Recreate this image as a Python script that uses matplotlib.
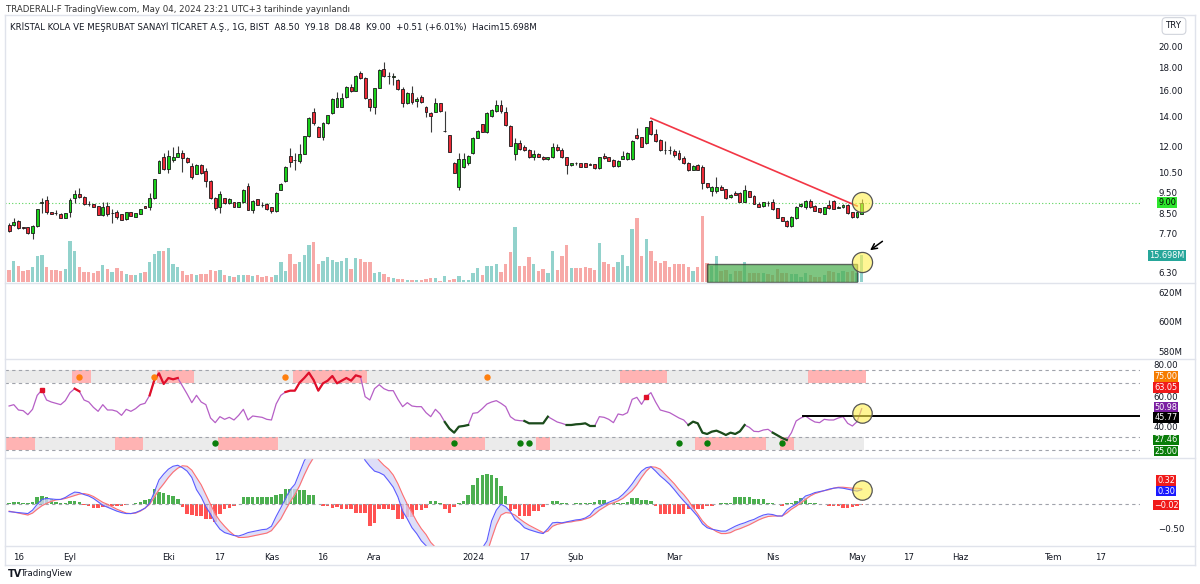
import numpy as np
import pandas as pd
import matplotlib
matplotlib.use("Agg")
import matplotlib.pyplot as plt
from matplotlib.lines import Line2D
from matplotlib.patches import Rectangle
from matplotlib.ticker import NullLocator
from matplotlib.transforms import blended_transform_factory

W, H = 1200, 584

### trading days (BIST holidays removed), then future days on the axis
holidays = ["2023-08-30", "2024-01-01", "2024-04-10", "2024-04-11",
            "2024-04-12", "2024-04-23", "2024-05-01"]
days = pd.bdate_range("2023-08-14", "2024-05-03")
days = days[~days.isin(pd.to_datetime(holidays))]
future = pd.bdate_range("2024-05-06", "2024-08-30")
alldays = days.append(future)

### OHLC (TRY)
opens = [8.03, 8.03, 8.20, 7.93, 7.93, 7.70, 7.97, 9.00, 9.13, 8.57,
         8.54, 8.50, 8.34, 8.56, 9.20, 9.41, 9.28, 8.96, 8.95, 8.85,
         8.46, 8.85, 8.52, 8.57, 8.48, 8.27, 8.56, 8.38, 8.50, 8.85,
         8.79, 9.20, 10.50, 11.39, 10.68, 11.20, 11.39, 11.59, 11.30, 10.86,
         10.43, 10.92, 10.60, 10.08, 9.20, 8.79, 9.20, 8.98, 9.01, 8.82,
         9.01, 9.80, 8.67, 9.16, 8.91, 8.95, 8.79, 8.63, 9.61, 10.03,
         11.43, 11.22, 11.16, 11.55, 12.65, 14.31, 13.28, 12.57, 13.51, 14.21,
         14.71, 14.71, 15.43, 16.29, 15.95, 17.50, 17.05, 15.27, 14.71, 16.21,
         17.80, 17.23, 17.14, 16.85, 16.10, 14.96, 15.79, 15.14, 15.48, 14.66,
         14.26, 14.33, 14.96, 12.98, 12.72, 11.05, 9.74, 10.79, 11.01, 11.59,
         12.55, 13.46, 12.94, 14.02, 14.41, 14.83, 14.29, 13.35, 11.55, 12.23,
         11.99, 11.79, 11.35, 11.55, 11.35, 11.24, 11.35, 11.99, 11.79, 11.35,
         10.90, 11.03, 11.01, 11.01, 10.96, 10.95, 10.73, 11.43, 11.35, 11.20,
         10.86, 11.28, 11.24, 11.24, 12.72, 12.57, 12.19, 13.67, 12.77, 12.40,
         11.81, 11.79, 11.75, 11.59, 11.30, 11.05, 10.64, 10.92, 10.82, 9.94,
         9.53, 9.53, 9.77, 9.64, 9.25, 9.48, 9.48, 9.05, 9.53, 9.31,
         8.95, 8.85, 8.99, 9.01, 8.75, 8.35, 8.21, 7.97, 8.31, 8.85,
         8.82, 9.10, 8.85, 8.75, 8.50, 8.90, 9.10, 8.78, 8.79, 8.90,
         8.56, 8.35, 8.50]
highs = [8.13, 8.31, 8.24, 7.95, 7.96, 8.03, 8.72, 9.20, 9.31, 8.58,
         8.67, 8.52, 8.55, 9.20, 9.61, 9.72, 9.30, 9.10, 8.96, 8.87,
         9.05, 9.05, 8.70, 8.67, 8.50, 8.58, 8.58, 8.55, 8.72, 8.87,
         9.47, 10.18, 11.20, 11.59, 11.79, 11.99, 12.03, 11.79, 11.35, 11.01,
         10.95, 10.96, 10.73, 10.10, 9.28, 9.53, 9.23, 9.20, 9.05, 9.05,
         9.65, 9.94, 9.13, 9.18, 9.05, 8.97, 8.82, 9.50, 9.95, 10.85,
         11.89, 11.59, 12.15, 12.68, 13.95, 14.58, 13.30, 13.56, 14.12, 15.33,
         15.87, 15.74, 16.35, 16.48, 17.26, 17.65, 17.10, 15.35, 16.21, 17.80,
         18.47, 17.59, 17.44, 16.90, 16.29, 15.82, 16.35, 15.48, 15.61, 14.76,
         14.33, 15.35, 15.01, 14.41, 12.74, 11.08, 11.59, 11.59, 11.47, 12.58,
         13.05, 13.49, 14.33, 14.50, 15.22, 15.22, 14.71, 13.38, 12.50, 12.40,
         12.09, 11.83, 11.79, 11.59, 11.43, 11.37, 12.23, 12.13, 11.89, 11.39,
         11.05, 11.10, 11.03, 11.05, 11.00, 10.98, 11.39, 11.63, 11.39, 11.24,
         11.20, 11.75, 11.69, 12.40, 13.16, 12.61, 13.28, 13.74, 13.10, 12.44,
         12.36, 12.00, 11.83, 11.79, 11.43, 11.08, 10.89, 10.98, 10.92, 9.95,
         9.80, 10.25, 9.85, 9.66, 9.40, 9.53, 9.50, 9.85, 9.56, 9.34,
         9.05, 9.05, 9.10, 9.16, 8.77, 8.37, 8.24, 8.41, 8.85, 8.98,
         9.13, 9.16, 8.88, 8.77, 8.82, 9.13, 9.13, 8.85, 8.93, 8.93,
         8.58, 8.58, 9.18]
lows = [7.76, 7.99, 7.87, 7.86, 7.66, 7.47, 7.95, 8.53, 8.50, 8.48,
        8.46, 8.32, 8.32, 8.38, 8.98, 9.20, 8.91, 8.85, 8.80, 8.44,
        8.41, 8.42, 8.10, 8.28, 8.22, 8.25, 8.39, 8.36, 8.48, 8.74,
        8.67, 9.18, 10.46, 10.64, 10.46, 11.10, 11.37, 10.55, 11.05, 10.14,
        10.40, 10.42, 9.77, 9.18, 8.67, 8.53, 8.95, 8.95, 8.80, 8.80,
        8.98, 8.65, 8.53, 8.88, 8.82, 8.68, 8.53, 8.60, 9.58, 10.00,
        10.82, 10.64, 11.05, 11.52, 12.62, 13.40, 12.58, 12.40, 13.48, 14.18,
        14.66, 14.66, 15.40, 15.87, 15.92, 16.94, 15.30, 14.38, 14.16, 16.18,
        17.14, 16.48, 16.43, 16.05, 14.66, 14.93, 14.91, 14.66, 15.01, 13.97,
        12.94, 14.28, 14.33, 12.94, 11.67, 10.46, 9.61, 10.73, 10.92, 11.56,
        12.52, 12.92, 12.83, 13.98, 14.33, 14.26, 13.33, 12.00, 11.20, 11.79,
        11.73, 11.30, 11.20, 11.35, 11.20, 11.22, 11.33, 11.75, 11.30, 10.43,
        10.86, 10.92, 10.80, 10.79, 10.90, 10.70, 10.70, 11.24, 11.12, 10.82,
        10.82, 11.24, 11.20, 11.20, 12.44, 11.95, 12.15, 12.72, 12.29, 11.75,
        11.55, 11.55, 11.39, 11.20, 10.98, 10.57, 10.61, 10.61, 9.64, 9.69,
        9.31, 9.48, 9.58, 9.18, 9.22, 9.34, 9.02, 9.01, 9.25, 8.92,
        8.79, 8.82, 8.85, 8.67, 8.31, 8.19, 7.94, 7.94, 8.29, 8.82,
        8.70, 8.75, 8.61, 8.53, 8.48, 8.70, 8.70, 8.75, 8.77, 8.50,
        8.33, 8.33, 8.48]
closes = [7.80, 8.17, 7.90, 7.89, 7.70, 7.97, 8.70, 9.05, 8.56, 8.50,
          8.52, 8.34, 8.53, 9.13, 9.41, 9.28, 8.93, 8.94, 8.82, 8.46,
          8.79, 8.50, 8.54, 8.38, 8.24, 8.56, 8.41, 8.53, 8.70, 8.76,
          9.20, 10.14, 11.16, 10.68, 11.43, 11.39, 11.59, 11.30, 11.10, 10.25,
          10.92, 10.46, 10.08, 9.20, 8.75, 9.41, 8.98, 9.16, 8.82, 9.01,
          9.61, 8.67, 9.10, 8.90, 8.89, 8.70, 8.64, 9.47, 9.91, 10.82,
          11.10, 11.18, 11.55, 12.65, 13.90, 13.51, 12.61, 13.51, 14.09, 15.30,
          15.35, 15.40, 16.29, 15.95, 17.23, 17.00, 15.35, 14.71, 16.15, 17.74,
          17.20, 17.17, 17.17, 16.10, 14.96, 15.79, 15.04, 15.30, 15.09, 14.29,
          14.02, 14.96, 14.41, 13.00, 11.69, 10.50, 11.24, 11.24, 11.43, 12.55,
          13.01, 12.94, 14.21, 14.46, 14.83, 14.41, 13.40, 12.03, 12.23, 11.83,
          11.79, 11.35, 11.53, 11.35, 11.24, 11.35, 11.99, 11.79, 11.35, 10.92,
          11.01, 11.00, 10.82, 10.82, 10.94, 10.73, 11.35, 11.30, 11.16, 10.86,
          11.16, 11.43, 11.59, 12.36, 12.50, 11.99, 13.23, 12.77, 12.36, 11.79,
          11.79, 11.77, 11.49, 11.24, 11.01, 10.61, 10.86, 10.64, 9.94, 9.74,
          9.74, 9.77, 9.61, 9.20, 9.36, 9.36, 9.05, 9.58, 9.28, 8.95,
          8.82, 9.02, 8.97, 8.70, 8.34, 8.21, 7.97, 8.38, 8.82, 8.95,
          9.08, 8.79, 8.64, 8.56, 8.79, 8.75, 8.73, 8.80, 8.90, 8.53,
          8.35, 8.56, 9.00]
### volume, millions
volume = [7.0, 12.2, 9.3, 6.5, 7.4, 8.7, 15.2, 15.6, 8.9, 7.0,
          7.4, 6.7, 7.6, 23.6, 18.1, 8.9, 6.1, 6.1, 5.5, 6.7,
          9.9, 7.6, 6.1, 8.0, 6.7, 5.1, 4.0, 4.0, 5.7, 5.9,
          11.8, 16.2, 17.9, 18.1, 19.8, 10.8, 8.7, 6.5, 4.2, 5.1,
          4.4, 4.8, 4.8, 7.4, 6.5, 7.4, 4.2, 3.6, 3.2, 4.0,
          4.4, 4.4, 3.6, 4.0, 3.2, 3.6, 3.0, 4.2, 11.6, 6.7,
          16.5, 10.8, 11.6, 15.6, 21.3, 23.0, 10.8, 12.4, 14.3, 12.7,
          11.8, 12.2, 13.9, 7.6, 13.7, 13.3, 11.6, 11.6, 5.7, 6.1,
          4.8, 3.2, 2.7, 1.9, 1.9, 1.7, 1.7, 1.3, 1.3, 1.9,
          2.5, 2.5, 1.0, 3.6, 1.3, 2.1, 3.6, 1.7, 1.7, 5.5,
          8.4, 4.0, 9.3, 9.5, 10.5, 6.1, 10.8, 17.3, 31.4, 9.7,
          9.3, 14.6, 10.5, 6.7, 7.6, 5.7, 18.2, 7.0, 15.0, 21.5,
          8.4, 8.0, 8.0, 8.6, 8.2, 7.2, 22.4, 11.6, 10.6, 8.6,
          11.6, 15.8, 9.7, 30.4, 37.1, 15.4, 24.7, 17.7, 12.4, 11.0,
          12.5, 8.6, 10.6, 10.6, 10.5, 8.6, 6.7, 8.6, 38.2, 11.0,
          9.7, 15.2, 6.3, 7.2, 4.9, 6.3, 6.8, 11.6, 5.7, 5.7,
          5.3, 5.3, 4.9, 4.4, 7.6, 5.7, 5.7, 4.9, 4.9, 3.4,
          5.3, 4.4, 3.4, 3.4, 4.4, 6.3, 5.9, 5.3, 6.3, 5.9,
          6.3, 5.3, 15.698]
### RSI
rsi = [53, 54, 50, 49.5, 46.5, 50.5, 61, 65, 57.5, 56,
       55, 54, 57, 63, 66, 64, 57.5, 56, 52, 49,
       54, 50, 50, 49, 46, 50.5, 49, 51, 54, 55,
       61, 72.5, 77.5, 69.5, 74, 73, 74, 68, 62, 55.5,
       61, 56, 54, 44, 40.5, 45, 43, 44.5, 42.5, 46,
       50.5, 42.5, 45.5, 45, 44.5, 43, 42.5, 54.5, 61, 63.5,
       64.5, 64.5, 70.5, 74, 78, 72.5, 64.5, 70, 72, 75.5,
       70, 72, 74, 72, 76, 75, 60, 57.5, 66, 69,
       66, 64.5, 64.5, 58, 52.5, 55.5, 53, 52.5, 52.5, 48,
       45, 50.5, 47, 41, 36, 33, 37.5, 38, 38.75, 47.5,
       48, 51, 54.5, 56, 57, 55, 52.5, 45, 42.5, 42,
       41.75, 40, 40, 40, 40, 45, 43, 41, 40, 38.75,
       38.75, 39.25, 39.5, 40, 38, 38, 45, 44.5, 43, 40.5,
       47, 46.25, 48, 58, 59.5, 54.25, 60, 63, 56, 50,
       49, 48, 46, 44, 42.5, 38.75, 41.25, 40, 33, 32,
       33.75, 34.5, 33, 31.25, 33, 32, 34, 38.75, 37, 34,
       33.75, 35, 35.5, 33, 31, 29, 27.5, 33, 41.75, 44,
       45.5, 43, 41, 40.5, 43, 42.5, 42.5, 44, 45, 40,
       38, 41.25, 50.98]
rsi_hot = [(7, 7), (14, 15), (30, 36), (59, 75), (136, 136)]
rsi_cold = [(93, 98), (110, 115), (119, 125), (145, 157), (163, 166)]
zone_top = [(14, 17), (32, 39), (61, 76), (131, 140), (171, 182.5)]
zone_bot = [(-1, 5), (23, 28), (45, 57), (86, 101), (113, 115), (147, 161), (165, 167)]
dots_top = [15, 31, 59, 102]
dots_bot = [44, 95, 109, 111, 143, 149, 165]
### MACD
macd = [-0.15, -0.16, -0.17, -0.18, -0.19, -0.12, 0.0, 0.1, 0.12, 0.11,
        0.10, 0.10, 0.14, 0.2, 0.25, 0.24, 0.2, 0.17, 0.12, 0.05,
        -0.02, -0.06, -0.1, -0.14, -0.17, -0.19, -0.19, -0.17, -0.13, -0.08,
        0.02, 0.25, 0.5, 0.62, 0.72, 0.78, 0.8, 0.75, 0.68, 0.55,
        0.3, 0.15, -0.05, -0.2, -0.38, -0.51, -0.58, -0.61, -0.64, -0.65,
        -0.62, -0.58, -0.56, -0.54, -0.52, -0.51, -0.45, -0.25, -0.07, 0.12,
        0.3, 0.41, 0.65, 0.89, 1.05, 1.12, 1.15, 1.18, 1.22, 1.28,
        1.3, 1.32, 1.33, 1.3, 1.25, 1.1, 0.9, 0.78, 0.68, 0.65,
        0.6, 0.48, 0.35, 0.15, -0.14, -0.3, -0.48, -0.6, -0.75, -0.85,
        -0.95, -1.0, -1.05, -1.15, -1.3, -1.45, -1.5, -1.45, -1.35, -1.2,
        -1.05, -0.9, -0.75, -0.34, -0.12, 0.0, -0.05, -0.15, -0.31, -0.38,
        -0.48, -0.52, -0.55, -0.58, -0.6, -0.5, -0.38, -0.37, -0.38, -0.36,
        -0.34, -0.32, -0.31, -0.28, -0.22, -0.1, -0.05, 0.0, 0.04, 0.08,
        0.12, 0.2, 0.3, 0.42, 0.56, 0.68, 0.75, 0.77, 0.68, 0.58,
        0.5, 0.41, 0.3, 0.18, 0.07, -0.03, -0.14, -0.25, -0.4, -0.48,
        -0.51, -0.53, -0.55, -0.55, -0.5, -0.45, -0.41, -0.38, -0.34, -0.31,
        -0.26, -0.22, -0.2, -0.21, -0.24, -0.24, -0.12, -0.05, 0.0, 0.08,
        0.17, 0.2, 0.24, 0.26, 0.28, 0.31, 0.33, 0.34, 0.33, 0.31,
        0.29, 0.27, 0.30]
signal = [-0.14, -0.16, -0.18, -0.2, -0.22, -0.18, -0.1, -0.03, 0.02, 0.06,
          0.09, 0.1, 0.12, 0.15, 0.18, 0.21, 0.22, 0.2, 0.16, 0.1,
          0.04, 0.0, -0.05, -0.1, -0.14, -0.18, -0.19, -0.18, -0.14, -0.08,
          0.0, 0.15, 0.3, 0.42, 0.55, 0.66, 0.74, 0.79, 0.78, 0.7,
          0.55, 0.4, 0.2, 0.0, -0.2, -0.34, -0.45, -0.55, -0.63, -0.68,
          -0.68, -0.67, -0.65, -0.63, -0.61, -0.59, -0.54, -0.42, -0.3, -0.12,
          0.05, 0.2, 0.38, 0.6, 0.8, 0.96, 1.06, 1.12, 1.16, 1.2,
          1.24, 1.27, 1.3, 1.32, 1.32, 1.28, 1.18, 1.05, 1.02, 0.9,
          0.8, 0.72, 0.6, 0.42, 0.2, 0.0, -0.17, -0.35, -0.5, -0.62,
          -0.78, -0.88, -0.98, -1.1, -1.22, -1.35, -1.5, -1.55, -1.5, -1.4,
          -1.28, -1.15, -1.0, -0.7, -0.42, -0.22, -0.17, -0.18, -0.22, -0.3,
          -0.37, -0.43, -0.48, -0.53, -0.58, -0.55, -0.45, -0.41, -0.39, -0.37,
          -0.36, -0.34, -0.33, -0.3, -0.27, -0.2, -0.12, -0.06, 0.0, 0.03,
          0.07, 0.12, 0.2, 0.28, 0.4, 0.55, 0.68, 0.77, 0.76, 0.72,
          0.62, 0.52, 0.42, 0.3, 0.2, 0.08, -0.07, -0.2, -0.34, -0.44,
          -0.5, -0.56, -0.6, -0.6, -0.58, -0.53, -0.5, -0.46, -0.42, -0.37,
          -0.32, -0.28, -0.25, -0.24, -0.24, -0.24, -0.18, -0.1, -0.04, 0.03,
          0.1, 0.17, 0.22, 0.25, 0.28, 0.3, 0.33, 0.35, 0.35, 0.34,
          0.33, 0.33, 0.32]
hist = [0.03, 0.04, 0.04, 0.03, 0.02, 0.05, 0.14, 0.17, 0.14, 0.10,
        0.05, 0.03, 0.02, 0.06, 0.07, 0.05, -0.02, -0.03, -0.08, -0.08,
        -0.05, -0.05, -0.04, -0.03, -0.03, -0.01, 0.0, 0.03, 0.04, 0.08,
        0.1, 0.31, 0.26, 0.24, 0.2, 0.17, 0.1, -0.05, -0.19, -0.22,
        -0.24, -0.25, -0.3, -0.31, -0.36, -0.2, -0.1, -0.07, -0.03, 0.01,
        0.14, 0.14, 0.14, 0.14, 0.14, 0.14, 0.14, 0.2, 0.22, 0.31,
        0.31, 0.31, 0.29, 0.29, 0.2, 0.2, 0.0, -0.03, -0.03, -0.07,
        -0.05, -0.1, -0.1, -0.1, -0.17, -0.17, -0.17, -0.44, -0.38, -0.1,
        -0.1, -0.1, -0.12, -0.31, -0.31, -0.26, -0.26, -0.12, -0.12, -0.07,
        0.07, 0.07, 0.02, -0.1, -0.17, -0.05, 0.02, 0.07, 0.19, 0.4,
        0.53, 0.6, 0.63, 0.6, 0.53, 0.38, 0.18, -0.14, -0.1, -0.24,
        -0.24, -0.24, -0.14, -0.14, -0.05, 0.0, 0.07, 0.07, 0.02, 0.02,
        0.0, 0.02, 0.03, 0.03, 0.03, 0.04, 0.08, 0.08, 0.03, 0.03,
        0.03, 0.03, 0.04, 0.12, 0.12, 0.08, 0.08, 0.06, -0.03, -0.2,
        -0.2, -0.2, -0.2, -0.2, -0.2, -0.1, -0.1, -0.1, -0.1, -0.03,
        -0.03, 0.0, 0.03, 0.03, 0.03, 0.15, 0.15, 0.15, 0.15, 0.1,
        0.1, 0.1, 0.02, 0.02, 0.01, -0.03, 0.02, 0.03, 0.06, 0.12,
        0.12, 0.03, 0.02, 0.01, 0.0, -0.03, -0.03, -0.03, -0.08, -0.08,
        -0.05, -0.03, -0.02]

date_ticks = [("16", "2023-08-16"), ("Eyl", "2023-09-01"), ("Eki", "2023-10-02"),
              ("17", "2023-10-17"), ("Kas", "2023-11-01"), ("16", "2023-11-16"),
              ("Ara", "2023-12-01"), ("2024", "2024-01-02"), ("17", "2024-01-17"),
              ("Şub", "2024-02-01"), ("Mar", "2024-03-01"), ("Nis", "2024-04-01"),
              ("May", "2024-05-02"), ("17", "2024-05-17"), ("Haz", "2024-06-03"),
              ("Tem", "2024-07-01"), ("17", "2024-07-15")]
price_ticks = [20.0, 18.0, 16.0, 14.0, 12.0, 10.5, 9.5, 8.5, 7.7, 6.3]

n = len(closes)
x = np.arange(n)
o = np.array(opens); c = np.array(closes)
up = c >= o

plt.rcParams['font.family'] = ['DejaVu Sans']
TXT = '#131722'
GRID = '#e0e3eb'
FS = 6.2
LFS = 5.9      # label boxes on the right scale

fig = plt.figure(figsize=(W/100, H/100), dpi=100)
fig.patch.set_facecolor('white')

def pane(y0, y1, x0=5, x1=1140):
    return fig.add_axes([x0/W, 1-y1/H, (x1-x0)/W, (y1-y0)/H])

def hline(y, x0=5, x1=1195, **kw):
    fig.add_artist(Line2D([x0/W, x1/W], [1-y/H, 1-y/H], transform=fig.transFigure, **kw))

def scale_label(ypix, txt, fc=None, tc=TXT):
    # right-hand scale label, centred at x=1166 px
    kw = dict(ha='center', va='center', fontsize=LFS if fc else FS, color=tc)
    if fc:
        kw['bbox'] = dict(boxstyle='square,pad=0.12', fc=fc, ec='none')
    fig.text(1166/W, 1-ypix/H, txt, **kw)

XL = (-0.875, 241.4)
LX = 1.0238   # label centre, axes fraction

### volume (behind) and price panes
axv = pane(15, 283)
axp = pane(15, 283)
axp.set_facecolor('none')
for a in (axv, axp):
    a.set_xlim(*XL)
    for s in a.spines.values():
        s.set_visible(False)
    a.set_xticks([])

axv.set_ylim(-0.29, 152.7)
axv.set_yticks([])
axv.bar(x, volume, width=0.72, color=np.where(up, '#92d2cc', '#f7a9a7'), linewidth=0)
axv.add_patch(Rectangle((148.9, 0), 32.0, 10.6, facecolor='#4caf50', alpha=0.72,
                        edgecolor='#333333', linewidth=1.0))
axv.plot([182], [11.7], 'o', ms=14.5, mfc=(1, 0.94, 0.3, 0.6), mec='#555555', mew=0.9)

axp.set_yscale('log')
axp.set_ylim(5.97, 23.49)
axp.yaxis.set_minor_locator(NullLocator())
axp.yaxis.tick_right()
axp.set_yticks(price_ticks, ["%.2f" % v for v in price_ticks])
axp.tick_params(axis='y', length=0, pad=13, labelsize=FS, labelcolor=TXT)

axp.axhline(closes[-1], color='#5ad45a', lw=0.8, ls=(0, (1, 2)))
axp.vlines(x, lows, highs, color='#3a3a3a', lw=0.8, zorder=2)
axp.bar(x, c - o, bottom=o, width=0.62, color=np.where(up, '#19d019', '#ec2a37'),
        edgecolor='#1a1a1a', linewidth=0.6, zorder=3)
axp.plot([137, 181], [13.86, 8.85], color='#f23645', lw=1.2, zorder=4)
axp.plot([182], [9.02], 'o', ms=14.5, mfc=(1, 0.94, 0.3, 0.6), mec='#555555', mew=0.9, zorder=5)
axp.annotate('', xy=(183.3, 7.0), xytext=(186.9, 7.45),
             arrowprops=dict(arrowstyle='->', color='black', lw=1.1))

tb = blended_transform_factory(axp.transAxes, axp.transData)
axp.text(LX, closes[-1], "%.2f" % closes[-1], transform=tb, ha='center', va='center',
         fontsize=LFS, color='black', clip_on=False,
         bbox=dict(boxstyle='square,pad=0.15', fc='#2ee62e', ec='none'))
tbv = blended_transform_factory(axv.transAxes, axv.transData)
axv.text(LX, volume[-1] - 0.3, "%.3fM" % volume[-1], transform=tbv, ha='center', va='center',
         fontsize=LFS, color='white', clip_on=False,
         bbox=dict(boxstyle='square,pad=0.15', fc='#26a69a', ec='none'))

fig.text(6/W, 1-9/H, "TRADERALI-F TradingView.com, May 04, 2024 23:21 UTC+3 tarihinde yayınlandı",
         fontsize=FS, color='#333333', va='center')
fig.text(10/W, 1-27/H, "KRİSTAL KOLA VE MEŞRUBAT SANAYİ TİCARET A.Ş., 1G, BIST  "
         "A8.50  Y9.18  D8.48  K9.00  +0.51 (+6.01%)  Hacim15.698M",
         fontsize=FS, color=TXT, va='center')
fig.text(1174/W, 1-26/H, "TRY", fontsize=FS, color=TXT, ha='center', va='center',
         bbox=dict(boxstyle='round,pad=0.45', fc='white', ec='#d1d4dc', lw=0.8))

### empty pane
axe = pane(283, 359)
axe.set_xlim(*XL)
axe.set_ylim(574.5, 626.8)
axe.set_xticks([])
axe.yaxis.tick_right()
axe.set_yticks([620, 600, 580], ["620M", "600M", "580M"])
axe.tick_params(axis='y', length=0, pad=13, labelsize=FS, labelcolor=TXT)
for s in axe.spines.values():
    s.set_visible(False)

### RSI pane
axr = pane(359, 458)
axr.set_xlim(*XL)
axr.set_ylim(13.99, 88.25)
axr.set_xticks([])
axr.set_yticks([])
for s in axr.spines.values():
    s.set_visible(False)
axr.fill_between([-1, 182.5], 70, 80, color='#ebebeb', lw=0)
axr.fill_between([-1, 182.5], 20, 30, color='#ebebeb', lw=0)
for a0, a1 in zone_top:
    axr.fill_between([a0 - 0.5, a1 + 0.5], 70, 80, color='#ffb3b3', lw=0)
for a0, a1 in zone_bot:
    axr.fill_between([a0 - 0.5, a1 + 0.5], 20, 30, color='#ffb3b3', lw=0)
for lv in (80, 70, 30, 20):
    axr.axhline(lv, color='#a0a3ab', lw=0.8, ls=(0, (3, 3)))
axr.plot(x, rsi, color='#b65fc6', lw=0.9)
for a0, a1 in rsi_hot:
    if a0 == a1:
        axr.plot([a0], [rsi[a0]], 's', ms=2.5, color='#e0102a')
    else:
        axr.plot(x[a0:a1+1], rsi[a0:a1+1], color='#e0102a', lw=1.6)
for a0, a1 in rsi_cold:
    axr.plot(x[a0:a1+1], rsi[a0:a1+1], color='#1b4d1b', lw=1.6)
axr.plot(dots_top, [75]*len(dots_top), 'o', ms=3.6, color='#ff7f0e')
axr.plot(dots_bot, [25]*len(dots_bot), 'o', ms=3.6, color='#0a7d0a')
axr.plot([169.5, XL[1]], [45.77, 45.77], color='black', lw=1.4)
axr.plot([182], [47.7], 'o', ms=14, mfc=(1, 0.94, 0.3, 0.6), mec='#555555', mew=0.9)

# RSI scale: plain levels and the coloured value tags (stacked like the original)
scale_label(365.5, "80.00")
scale_label(376.5, "75.00", '#f57c00', 'white')
scale_label(387.5, "63.05", '#f01a1a', 'white')
scale_label(398.0, "60.00")
scale_label(407.5, "50.98", '#7b1fa2', 'white')
scale_label(417.5, "45.77", 'black', 'white')
scale_label(427.5, "40.00")
scale_label(440.0, "27.46", '#0a7d0a', 'white')
scale_label(451.0, "25.00", '#0a7d0a', 'white')

### MACD pane
axm = pane(458, 546)
axm.set_xlim(*XL)
axm.set_ylim(-0.855, 0.949)
for s in axm.spines.values():
    s.set_visible(False)
axm.yaxis.tick_right()
axm.set_yticks([-0.5], ["\u22120.50"])
axm.tick_params(axis='y', length=0, pad=13, labelsize=FS, labelcolor=TXT)
axm.axhline(0, color='#a0a3ab', lw=0.8, ls=(0, (3, 3)))
hv = np.array(hist)
axm.bar(x, hv, width=0.75, color=np.where(hv >= 0, '#4caf50', '#ff5252'), linewidth=0)
axm.fill_between(x, macd, signal, color='#d6d6f7', alpha=0.8, lw=0)
axm.plot(x, signal, color='#ff7070', lw=0.8)
axm.plot(x, macd, color='#5b5bff', lw=0.8)
axm.plot([182], [0.29], 'o', ms=14, mfc=(1, 0.94, 0.3, 0.6), mec='#555555', mew=0.9)
scale_label(480.5, "0.32", '#f01a1a', 'white')
scale_label(491.0, "0.30", '#1a1aff', 'white')
scale_label(505.0, "\u22120.02", '#f01a1a', 'white')

pos = [alldays.get_loc(pd.Timestamp(d)) for _, d in date_ticks]
axm.set_xticks(pos, [t for t, _ in date_ticks])
axm.tick_params(axis='x', length=0, pad=5, labelsize=FS, labelcolor=TXT)

### frame and pane separators
for yy in (15, 283, 359, 458, 546, 565):
    hline(yy, color=GRID, lw=1.0)
fig.add_artist(Line2D([5/W, 5/W], [1-15/H, 1-565/H], transform=fig.transFigure, color=GRID, lw=1.0))
fig.add_artist(Line2D([1195/W, 1195/W], [1-15/H, 1-565/H], transform=fig.transFigure, color=GRID, lw=1.0))

fig.text(8/W, 1-574/H, "TV", fontsize=7, fontweight='bold', color=TXT, va='center')
fig.text(21/W, 1-574/H, "TradingView", fontsize=FS, color=TXT, va='center')

fig.savefig("out.png", dpi=100, facecolor='white')
